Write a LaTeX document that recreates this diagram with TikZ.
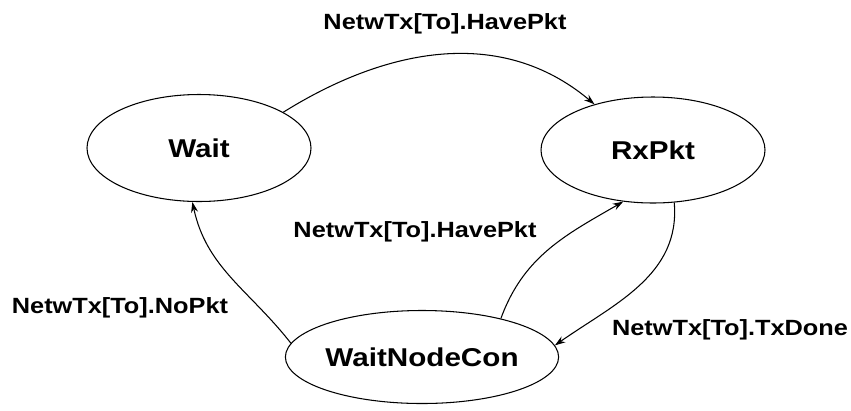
\documentclass[tikz,border=0pt]{standalone}
\usepackage{fontspec}
\setmainfont[FakeStretch=1.15]{Liberation Sans}
\usetikzlibrary{shapes.geometric,arrows.meta}
\begin{document}
\begin{tikzpicture}[x=0.03cm, y=-0.03cm, line width=0.9pt]
        % Define styles for states and labels
        \tikzset{
            state/.style={draw, ellipse, inner sep=0pt, font=\fontsize{22}{26}\selectfont\bfseries},
            lbl/.style={inner sep=0pt, font=\fontsize{18.8}{22}\selectfont\bfseries},
            trans/.style={-{Stealth[length=9pt, width=6pt]}}
        }
        \useasboundingbox (0,0) rectangle (851,410);
        % Draw states
        \node[state, minimum width=6.72cm, minimum height=3.21cm] (wait) at (199,148) {Wait};
        \node[state, minimum width=6.72cm, minimum height=3.18cm] (rxpkt) at (653,150) {RxPkt};
        \node[state, minimum width=6.84cm, minimum height=2.79cm] (waitnc) at (422,357) {WaitNodeCon};
        % Transition labels
        \node[lbl] (lhave1) at (445,24) {NetwTx[To].HavePkt};
        \node[lbl] (lnopkt) at (120,308) {NetwTx[To].NoPkt};
        \node[lbl] (lhave2) at (415,232) {NetwTx[To].HavePkt};
        \node[lbl] (ltxdone) at (730,330) {NetwTx[To].TxDone};
        % Draw transitions
        \draw[trans] (wait.23) to[out=32, in=140] (rxpkt.142);
        \draw[trans] (waitnc.174) to[out=128, in=-78] (wait.263);
        \draw[trans] (waitnc.26) to[out=70, in=-150] (rxpkt.240);
        \draw[trans] (rxpkt.-68) to[out=-85, in=35] (waitnc.5);
    \end{tikzpicture}
\end{document}
